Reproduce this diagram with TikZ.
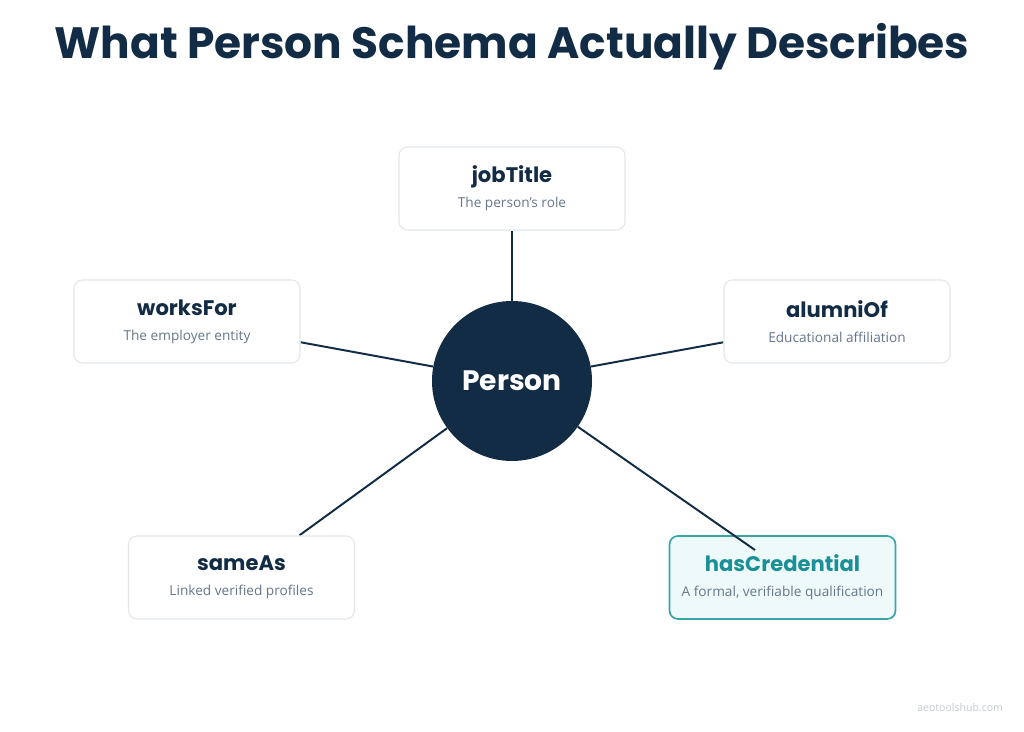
\documentclass[tikz,border=0pt]{standalone}
\usepackage{fontspec}
\setmainfont{Open Sans}
\newfontfamily\headfont{Poppins}[UprightFont=* SemiBold, BoldFont=* Bold]
\usepackage{tikz}
\usetikzlibrary{positioning, backgrounds}
\definecolor{navy}{HTML}{122C45}
\definecolor{boxline}{HTML}{E3E7EC}
\definecolor{subgray}{HTML}{66768A}
\definecolor{tealtext}{HTML}{1B8F97}
\definecolor{tealline}{HTML}{3AA5A8}
\definecolor{tealfill}{HTML}{EEFAFA}
\definecolor{markgray}{HTML}{C3CAD3}

\tikzset{
    propbox/.style={draw=boxline, line width=0.8pt, rounded corners=6pt, fill=white,
        minimum width=226*0.025cm, minimum height=83*0.025cm, align=center, inner sep=0pt},
    highbox/.style={propbox, draw=tealline, line width=1.2pt, fill=tealfill},
    spoke/.style={navy, line width=1.4pt}
}
\newcommand{\proptext}[3][navy]{{\headfont\bfseries\fontsize{15}{18}\selectfont\color{#1}#2}\\[6pt]{\fontsize{9.7}{12}\selectfont\color{subgray}#3}}

\begin{document}
\begin{tikzpicture}[x=0.025cm, y=-0.025cm]
    % Canvas
    \useasboundingbox (0,0) rectangle (1024,731);

    % Title
    \node (title) at (512,47) {\headfont\bfseries\fontsize{31.2}{38}\selectfont\color{navy}What Person Schema Actually Describes};

    % Centre
    \node[circle, fill=navy, minimum size=160*0.025cm, inner sep=0pt] (person) at (512,381)
        {\headfont\bfseries\fontsize{20}{24}\selectfont\color{white}Person};

    % Properties
    \node[propbox] (jobtitle) at (512,188.5) {\proptext{jobTitle}{The person's role}};
    \node[propbox] (worksfor) at (187,321.5) {\proptext{worksFor}{The employer entity}};
    \node[propbox] (alumniof) at (837,321.5) {\proptext{alumniOf}{Educational affiliation}};
    \node[propbox] (sameas) at (241.5,577.5) {\proptext{sameAs}{Linked verified profiles}};
    \node[highbox] (hascred) at (782.5,577.5) {\proptext[tealtext]{hasCredential}{A formal, verifiable qualification}};
    \coordinate (credend) at (755,550);

    % Spokes
    \begin{scope}[on background layer]
        \fill[white] (0,0) rectangle (1024,731);
        \draw[spoke] (person) -- (jobtitle);
        \draw[spoke] (person) -- (worksfor);
        \draw[spoke] (person) -- (alumniof);
        \draw[spoke] (person) -- (sameas);
    \end{scope}
    \draw[spoke] (person) -- (credend);

    % Watermark
    \node[anchor=east] (mark) at (1008,708) {\fontsize{7.5}{9}\selectfont\color{markgray}aeotoolshub.com};
\end{tikzpicture}
\end{document}
